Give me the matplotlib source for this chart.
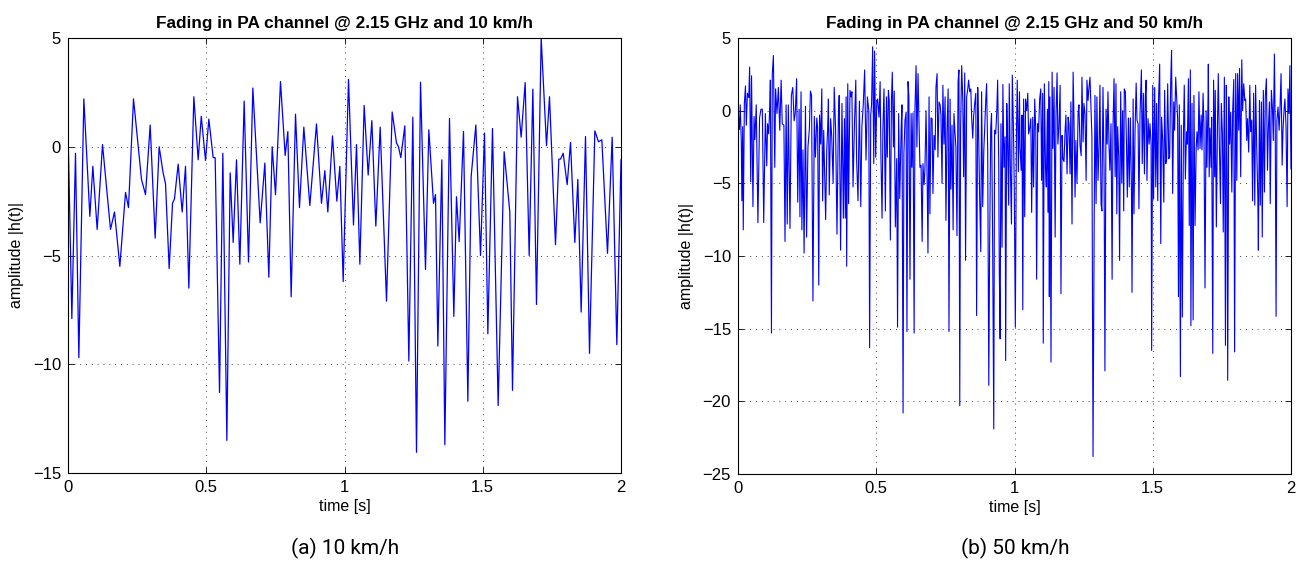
import numpy as np
import matplotlib
matplotlib.use('Agg')
import matplotlib.pyplot as plt

# 10 km/h trace: time [s] and amplitude (local peaks / fades)
t_slow = [0.0, 0.0139, 0.0271, 0.0392, 0.0573, 0.079, 0.0898, 0.1055, 0.1248, 0.1537,
  0.1682, 0.1875, 0.208, 0.2188, 0.2369, 0.2658, 0.2803, 0.2972, 0.3152, 0.3297,
  0.344, 0.3527, 0.3659, 0.378, 0.3851, 0.3984, 0.4129, 0.425, 0.437, 0.4551,
  0.4708, 0.482, 0.4973, 0.5093, 0.525, 0.5322, 0.548, 0.56, 0.5745, 0.5865,
  0.5974, 0.6094, 0.6215, 0.6371, 0.6528, 0.6685, 0.695, 0.7119, 0.7263, 0.7384,
  0.7505, 0.7685, 0.7854, 0.7951, 0.8071, 0.8228, 0.8372, 0.8529, 0.8746, 0.8987,
  0.9168, 0.9289, 0.9397, 0.9566, 0.9723, 0.9831, 0.9952, 1.0145, 1.0325, 1.0434,
  1.0555, 1.0711, 1.0856, 1.0989, 1.1133, 1.129, 1.1519, 1.1724, 1.1881, 1.1953,
  1.2037, 1.2182, 1.2327, 1.2471, 1.2604, 1.2749, 1.2929, 1.305, 1.3219, 1.3291,
  1.3376, 1.352, 1.3629, 1.3797, 1.3954, 1.405, 1.4147, 1.4304, 1.4461, 1.4581,
  1.475, 1.4919, 1.5063, 1.5184, 1.5352, 1.5557, 1.5774, 1.5979, 1.6076, 1.6257,
  1.6389, 1.6534, 1.6679, 1.6812, 1.6944, 1.7113, 1.7306, 1.7414, 1.7631, 1.7752,
  1.7812, 1.7909, 1.8053, 1.8174, 1.833, 1.8439, 1.8559, 1.8716, 1.8861, 1.9054,
  1.9186, 1.9307, 1.9512, 1.9681, 1.9849, 2.0]
a_slow = [0.9, -7.9, -0.3, -9.7, 2.2, -3.2, -0.9, -3.8, 0.1, -3.8,
  -3.0, -5.5, -2.1, -2.8, 2.2, -1.5, -2.2, 1.0, -4.2, 0.0,
  -1.2, -1.7, -5.6, -2.6, -2.4, -0.8, -3.0, -0.9, -6.5, 2.3,
  -0.6, 1.4, -0.63, 1.27, -0.5, -0.5, -11.3, -0.3, -13.5, -1.2,
  -4.4, -0.6, -5.4, 2.1, -5.3, 2.7, -3.5, -0.75, -6.0, 0.0,
  -2.2, 3.0, -0.4, 0.7, -6.9, 1.5, -2.8, 0.9, -2.7, 1.05,
  -2.6, -1.1, -3.0, 0.5, -2.5, -0.9, -6.2, 3.1, -3.6, 0.1,
  -5.4, 1.9, -1.3, 1.2, -3.65, 0.9, -7.1, 1.6, 0.17, 0.0,
  -0.5, 0.96, -9.85, 1.36, -14.05, 2.97, -5.64, 0.78, -2.6, -2.2,
  -9.16, -0.6, -13.7, 1.3, -7.8, -2.3, -4.36, 0.7, -11.7, -1.36,
  1.0, -5.0, 0.63, -8.6, 0.84, -11.9, -0.23, -3.0, -11.2, 2.3,
  0.44, 2.95, -5.0, 2.65, -7.25, 5.0, 0.05, 2.3, -4.5, -0.57,
  -0.57, -0.3, -1.74, 0.2, -4.4, -1.5, -7.6, 0.47, -9.5, 0.73,
  0.23, 0.32, -4.9, 0.44, -9.1, -0.6]

# 50 km/h trace: time [ms] and amplitude
t_fast_ms = [0, 5, 8, 12, 14, 17, 19, 23, 27, 30, 34, 39, 42, 46, 49, 54, 58, 61, 66, 72,
  78, 83, 88, 93, 99, 104, 107, 111, 115, 117, 121, 124, 128, 133, 136, 141, 146, 151, 156, 160,
  166, 170, 174, 178, 182, 188, 193, 198, 203, 207, 212, 216, 221, 224, 228, 231, 235, 239, 244, 248,
  253, 258, 262, 266, 271, 276, 280, 285, 288, 292, 295, 299, 303, 306, 310, 313, 317, 321, 324,
  327, 330, 335, 339, 344, 348, 353, 358, 363, 366, 371, 376, 381, 385, 388, 391, 393, 397, 400, 405,
  409, 412, 416, 421, 426, 429, 434, 439, 444, 448, 453, 458, 463, 468, 473, 476, 480, 483, 487, 491,
  494, 498, 502, 505, 510, 514, 517, 521, 524, 528, 533, 537, 540, 544, 547, 551, 555, 558, 562, 565,
  569, 574, 577, 581, 585, 590, 593, 597, 600, 604, 608, 611, 615, 618, 622, 626, 629, 633, 637, 640,
  644, 647, 651, 655, 658, 662, 666, 669, 673,
  676, 680, 684, 687, 691, 694, 698, 702, 705, 709, 713, 716, 720, 723, 727, 731, 734, 738, 741, 745,
  749, 752, 756, 760, 763, 767, 770, 774, 778, 781, 785, 788, 792, 796, 799, 802, 805, 809, 813, 816,
  820, 823, 827, 831, 834, 838, 842, 845, 849, 852, 856, 860, 863, 867, 870, 874, 878, 881, 885, 889,
  892, 896, 899, 903, 907, 910, 914, 917, 921, 925, 928, 932, 936, 939, 943, 945, 948, 951, 955, 958,
  962, 966, 968, 972, 975, 979, 981, 985, 989, 992, 996, 999, 1003, 1007, 1010, 1014, 1018,
  1020, 1024, 1027, 1030, 1033, 1037, 1040, 1044, 1048, 1051, 1055, 1059, 1062, 1066, 1069, 1073, 1077, 1080, 1084, 1087,
  1091, 1095, 1098, 1102, 1104, 1108, 1112, 1115, 1119, 1121, 1124, 1126, 1128, 1132, 1136, 1139, 1143, 1147, 1150, 1154,
  1157, 1161, 1165, 1168, 1172, 1175, 1179, 1183, 1186, 1190, 1194, 1197, 1201, 1204, 1208, 1212, 1215, 1219, 1222, 1226,
  1230, 1233, 1237, 1241, 1244, 1248, 1251, 1255, 1259, 1262, 1266, 1269, 1273, 1277, 1280, 1284, 1288, 1291, 1295, 1298,
  1302, 1306, 1309, 1313, 1316, 1320, 1324, 1327, 1331, 1335, 1338, 1342, 1345, 1349, 1353, 1356, 1360,
  1364, 1367, 1370, 1373, 1377, 1380, 1384, 1388, 1391, 1395, 1397, 1401, 1405, 1408, 1412, 1415, 1419, 1423, 1425, 1429,
  1432, 1436, 1440, 1443, 1447, 1450, 1454, 1459, 1462, 1466, 1470, 1473, 1476, 1479, 1483, 1487, 1490, 1494, 1496, 1500,
  1503, 1507, 1511, 1514, 1518, 1521, 1525, 1529, 1532, 1536, 1540, 1543, 1547, 1550, 1554, 1558, 1561, 1565, 1568, 1572,
  1576, 1579, 1583, 1587, 1590, 1593, 1596, 1600, 1603, 1607, 1611, 1614, 1618, 1622, 1625, 1629, 1632, 1636, 1638, 1642,
  1646, 1649, 1653, 1657, 1660, 1664, 1667, 1671, 1675, 1678, 1682, 1685, 1689, 1693, 1696, 1700,
  1701, 1704, 1707, 1711, 1713, 1717, 1720, 1724, 1726, 1730, 1734, 1737, 1741, 1745, 1748, 1752, 1755, 1759, 1763, 1766,
  1769, 1771, 1775, 1778, 1782, 1786, 1789, 1793, 1796, 1800, 1804, 1807, 1811, 1814, 1818, 1822, 1825, 1829, 1833, 1836,
  1840, 1843, 1847, 1851, 1854, 1858, 1861, 1865, 1869, 1872, 1876, 1880, 1882, 1886, 1889, 1893, 1896, 1900, 1904, 1907,
  1911, 1915, 1918, 1922, 1925, 1929, 1933, 1936, 1940, 1943, 1946, 1949, 1953, 1957, 1960, 1964, 1968, 1971, 1975, 1978,
  1982, 1986, 1989, 1993, 1996, 2000]
a_fast = [0.1, -1.3, 0.4, -2.2, -6.2, -1.1, -8.2, 0.5, 1.7, -1.0, 1.2, 0.9, 3.0, -4.9, 2.4, -6.6, -0.4, -2.0, 0.4, -7.7,
  -0.5, 0.1, 0.1, -7.7, -0.2, -3.8, -0.9, -1.6, 0.3, 2.1, -15.3, 2.5, 3.8, -3.9, 1.5, -0.2, 1.6, -1.35, 2.1, -0.9,
  -1.0, -9.0, 0.4, -7.8, 0.4, -8.1, 1.05, 1.6, -0.7, -0.2, 2.2, -6.3, 0.1, -7.3, 1.3, -8.2, -2.7, -9.8, 0.3, -8.7,
  -2.5, -1.3, 1.35, 1.05, -13.1, -0.4, -3.2, -0.5, -1.2, -12.0, -0.3, -2.3, 1.5, -6.2, -1.35, -3.9, -7.5, -2.7, -1.35,
  0.8, -5.8, -0.55, -1.8, -5.0, 1.6, -1.35, -8.5, -0.55, 1.05, -9.6, 0.5, -7.4, -0.55, -7.4, 0.95, -10.7, 1.85, -6.4, 1.4,
  0.95, 1.3, -5.25, -1.1, 2.1, -3.4, -6.2, 0.65, -6.6, -1.1, 0.4, 2.8, -3.4, 0.95, 0.0, -16.3, -0.3, 0.4, 4.4, -3.65,
  4.1, -3.2, 0.7, 0.8, -0.45, 2.0, -3.2, -7.4, -1.35, 1.5, -6.9, 0.95, -3.2, 1.4, 0.7, -8.9, 0.7, 2.65, -2.5, 1.35,
  -8.0, -3.3, -14.9, -0.2, -6.05, -1.35, 0.4, -20.8, -2.95, -0.65, -0.1, -15.2, 2.0, 0.95, -11.6, -0.2, -3.9, -0.15, -15.3, 0.1,
  3.1, -2.5, 2.55, -1.1, -3.9, -3.75, -9.0, -3.65, -5.1,
  -4.1, 0.0, -4.55, -9.8, 0.95, -7.1, -0.5, -0.55, -5.7, -1.7, -2.7, 1.6, 2.55, -3.2, 0.6, 0.4, -0.3, -5.0, 1.75, -2.3,
  0.95, -7.55, -1.35, 1.5, -15.2, 0.8, -5.4, -1.0, -8.2, -0.2, -1.6, -2.5, -8.6, 2.0, 2.8, -20.3, -1.35, 3.1, 0.7, -4.55,
  2.6, -10.3, 0.95, 1.5, 2.1, 1.3, 1.5, -0.45, -1.9, -0.45, 0.5, 1.2, -14.1, 1.6, -1.35, -5.95, -9.7, 1.3, -6.6, -2.7,
  -1.35, 0.7, 1.85, -2.7, -18.9, -9.4, -1.2, -0.2, -9.15, -21.9, -1.35, -1.6, 0.0, 2.1, -3.65, -11.0, -15.7, -0.9, -9.4, 1.8,
  -3.9, -1.8, -17.2, 0.5, -2.05, -6.5, 1.85, -3.9, -7.8, 2.45, -1.1, -4.9, -14.9, -1.6, 2.1, -4.2, 1.3,
  -2.5, -4.1, -0.3, -13.7, 0.8, -7.3, 0.8, 0.0, 1.2, -1.6, -1.2, -0.55, -7.0, -0.45, -5.25, 0.8, -1.35, -11.6, -0.9, -1.45,
  0.8, 1.5, -4.8, 1.2, -16.0, 1.85, -3.9, -5.25, 0.1, -7.0, 2.0, -12.8, 0.95, -17.3, 2.65, -2.6, 1.6, -8.7, -0.45, 2.6,
  -2.3, -1.0, 1.75, -12.6, -1.7, -3.3, -3.5, -1.35, -0.3, -4.35, -0.45, -0.9, -4.35, 0.6, -7.8, 2.65, -0.45, -5.95, -2.05, -5.0,
  -0.2, 0.4, -2.4, -3.1, 2.3, -2.15, 0.5, -0.2, -4.8, 2.1, 0.7, 1.5, 2.3, -0.1, -1.8, -23.8, -8.2, 1.05, -6.4, 0.95,
  -4.8, -2.3, 1.75, -6.4, -6.9, 1.6, -4.1, -17.9, 0.1, -2.3, 1.3, -2.5, -4.1, -0.9, -11.6, -1.35, 2.2,
  -4.55, 1.85, -7.1, -1.1, -3.2, -10.3, 1.3, -5.0, 0.0, -6.9, 1.5, 1.3, -2.3, -5.95, -0.5, -5.25, -0.5, -5.5, -12.5, 0.8,
  -7.1, -1.35, 1.9, -0.65, -0.9, -6.75, -0.2, 2.8, -3.65, 1.2, -4.35, 0.95, 2.1, -4.8, -0.55, -2.3, -0.9, -2.3, -16.5, 1.75,
  -6.05, 1.6, -5.25, 0.5, -6.2, 0.8, 3.2, -9.15, -0.45, -2.05, -6.3, 1.4, -3.65, -3.4, 1.85, -3.3, -3.2, 2.0, 4.15, -5.7,
  0.6, -1.35, 2.3, 0.7, -0.55, -12.8, 0.4, -18.3, -1.0, -14.2, -1.6, 1.75, -4.7, -1.45, -2.3, 2.2, -7.9, 2.8, -14.8, 0.5,
  -14.4, 1.05, -7.9, -2.6, -1.45, -2.7, 1.3, -2.6, -0.3, -2.7, 1.2, -0.9, -12.2, 0.0, -3.9, 0.95,
  3.2, -4.55, -1.2, -3.9, -0.45, -16.7, 2.1, -4.55, 1.4, -8.0, -1.1, 2.55, -2.4, -6.4, 0.5, -1.6, -8.35, 2.3, -16.15, 1.75,
  -4.1, -18.55, 0.95, -2.3, -0.1, -5.6, -0.1, 2.15, -16.6, 2.55, -4.8, 2.55, -1.35, 2.9, -4.55, 3.5, 0.0, 1.85, 0.7, 0.8,
  -2.05, -0.55, -2.85, 1.75, -1.45, -0.65, -6.2, 1.2, -6.5, 1.75, -2.5, -5.95, -9.6, 0.7, -6.5, 0.6, -8.7, 1.4, -5.6, 0.95,
  2.2, -4.1, -1.35, 0.6, -6.4, 1.4, 0.1, -2.05, 3.9, -1.35, -14.15, -0.65, 0.25, -1.35, 0.0, 2.55, -3.75, -1.35, 0.1, 0.8,
  -1.1, -6.6, 1.5, -0.2, 3.1, -4.0]

titles = ['Fading in PA channel @ 2.15 GHz and 10 km/h',
          'Fading in PA channel @ 2.15 GHz and 50 km/h']
captions = ['(a) 10 km/h', '(b) 50 km/h']
y_ranges = [(-15, 5), (-25, 5)]

plt.rcParams['font.family'] = ['Liberation Sans', 'DejaVu Sans']


def style_axes(ax, ylim, title):
  ax.set_xlim(0, 2)
  ax.set_ylim(*ylim)
  ax.set_xticks([0, 0.5, 1, 1.5, 2])
  ax.set_xticklabels(['0', '0.5', '1', '1.5', '2'])
  ax.set_yticks(np.arange(ylim[0], ylim[1] + 1, 5))
  ax.grid(True, color='0.25', linestyle=(0, (1, 5)), linewidth=0.7)
  ax.tick_params(direction='in', top=True, right=True, length=4, width=0.6,
                 labelsize=12, pad=5)
  for s in ax.spines.values():
    s.set_linewidth(0.8)
  ax.set_title(title, fontsize=12.4, fontweight='bold', pad=7)
  ax.set_xlabel('time [s]', fontsize=11.5, labelpad=3)
  ax.set_ylabel('amplitude |h(t)|', fontsize=11.5, labelpad=6)


fig = plt.figure(figsize=(13.09, 5.72), dpi=100)
ax1 = fig.add_axes([68 / 1309, 1 - 473 / 572, 553 / 1309, 435 / 572])
ax2 = fig.add_axes([738 / 1309, 1 - 474 / 572, 553 / 1309, 436 / 572])

ax1.plot(t_slow, a_slow, color='blue', linewidth=0.9)
ax2.plot(np.array(t_fast_ms) / 1000.0, a_fast, color='blue', linewidth=0.8)

style_axes(ax1, y_ranges[0], titles[0])
style_axes(ax2, y_ranges[1], titles[1])

cap_font = ['Roboto', 'DejaVu Sans']
fig.text(345 / 1309, 1 - 548 / 572, captions[0], ha='center', va='center',
         fontsize=15, family=cap_font)
fig.text(1015 / 1309, 1 - 548 / 572, captions[1], ha='center', va='center',
         fontsize=15, family=cap_font)

fig.savefig('out.png', dpi=100)
